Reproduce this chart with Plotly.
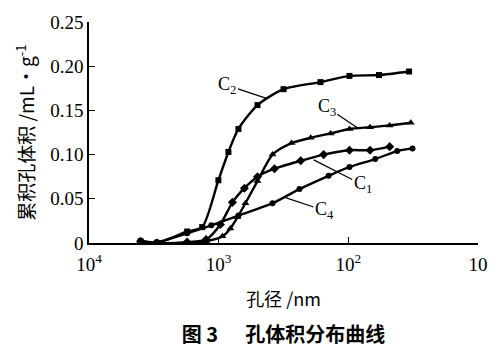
import numpy as np
import plotly.graph_objects as go

# pore diameter (nm) and cumulative pore volume (mL/g)
c1_d = [4000, 3000, 1750, 1250, 970, 783, 633, 502, 371, 233, 155, 98, 68, 48]
c1_v = [0.002, 0.000, 0.001, 0.004, 0.021, 0.046, 0.062, 0.075, 0.084, 0.093, 0.100, 0.105, 0.105, 0.109]

c2_d = [4000, 3000, 1750, 1340, 1005, 841, 704, 502, 316, 164, 98, 58, 34]
c2_v = [0.002, 0.000, 0.013, 0.018, 0.071, 0.103, 0.129, 0.156, 0.174, 0.182, 0.189, 0.190, 0.194]

c3_d = [4000, 3000, 1750, 1250, 936, 812, 717, 622, 502, 384, 274, 195, 137, 98, 68, 48, 33]
c3_v = [0.002, 0.000, 0.000, 0.002, 0.0075, 0.0165, 0.029, 0.045, 0.070, 0.100, 0.113, 0.119, 0.124, 0.129, 0.131, 0.133, 0.136]

c4_d = [4000, 3000, 1750, 1140, 704, 384, 238, 142, 98, 62, 42, 32]
c4_v = [0.002, 0.001, 0.011, 0.020, 0.031, 0.045, 0.061, 0.076, 0.086, 0.095, 0.104, 0.107]

x_tickvals = [1e4, 1e3, 1e2, 1e1]
x_ticktext = ["10<sup>4</sup>", "10<sup>3</sup>", "10<sup>2</sup>", "10"]
y_tickvals = [0, 0.05, 0.10, 0.15, 0.20, 0.25]
y_ticktext = ["0", "0.05", "0.10", "0.15", "0.20", "0.25"]

series = [
    ("C1", c1_d, c1_v, "diamond", 7),
    ("C2", c2_d, c2_v, "square", 6),
    ("C3", c3_d, c3_v, "triangle-up", 7),
    ("C4", c4_d, c4_v, "circle", 6),
]

# label annotations: name, anchor diameter, anchor value, text offset px
labels = [
    ("C<sub>2</sub>", 428, 0.1636, -39, -13),
    ("C<sub>3</sub>", 84.6, 0.130, -31, -21),
    ("C<sub>1</sub>", 185, 0.094, 49, 25),
    ("C<sub>4</sub>", 305, 0.0513, 39, 13),
]

serif = "Liberation Serif, Times New Roman, serif"
cjk = "Noto Sans CJK SC"
nb = "\u00a0"

fig = go.Figure()
for name, d, v, sym, sz in series:
    fig.add_trace(go.Scatter(
        x=d, y=v, mode="lines+markers", name=name,
        line=dict(color="black", width=2.4, shape="spline", smoothing=0.7),
        marker=dict(symbol=sym, size=sz, color="black"),
        showlegend=False,
    ))

for txt, d, v, ax, ay in labels:
    fig.add_annotation(
        x=np.log10(d), y=v, xref="x", yref="y", text=txt,
        showarrow=True, arrowhead=0, arrowwidth=1.2, arrowcolor="black",
        ax=ax, ay=ay, font=dict(family=serif, size=18, color="black"),
        standoff=0, startstandoff=0,
    )

fig.update_layout(
    width=501, height=351,
    margin=dict(l=89, r=23, t=20, b=108),
    paper_bgcolor="white", plot_bgcolor="white",
    font=dict(family=serif, color="black"),
    title=dict(
        text="<b>图" + nb + "3" + nb * 6 + "孔体积分布曲线</b>",
        font=dict(family=cjk, size=20, color="black"),
        x=0.566, xanchor="center", y=0.045, yanchor="middle",
    ),
)

fig.update_xaxes(
    type="log", range=[4, 1],
    tickvals=x_tickvals, ticktext=x_ticktext,
    ticks="inside", ticklen=6, tickwidth=1.2, tickcolor="black",
    showline=True, linecolor="black", linewidth=1.5,
    showgrid=False, zeroline=False,
    tickfont=dict(family=serif, size=19, color="black"),
    ticklabelstandoff=3,
    title=dict(text="孔径 /nm", font=dict(family=cjk, size=18, color="black"), standoff=20),
)
fig.update_yaxes(
    range=[0, 0.25],
    tickvals=y_tickvals, ticktext=y_ticktext,
    ticks="inside", ticklen=6, tickwidth=1.2, tickcolor="black",
    showline=True, linecolor="black", linewidth=1.5,
    showgrid=False, zeroline=False,
    tickfont=dict(family=serif, size=19, color="black"),
    title=dict(text="累积孔体积 /mL·g<sup>-1</sup>", font=dict(family=cjk, size=19, color="black"), standoff=11),
)

fig.write_html("out.html")
